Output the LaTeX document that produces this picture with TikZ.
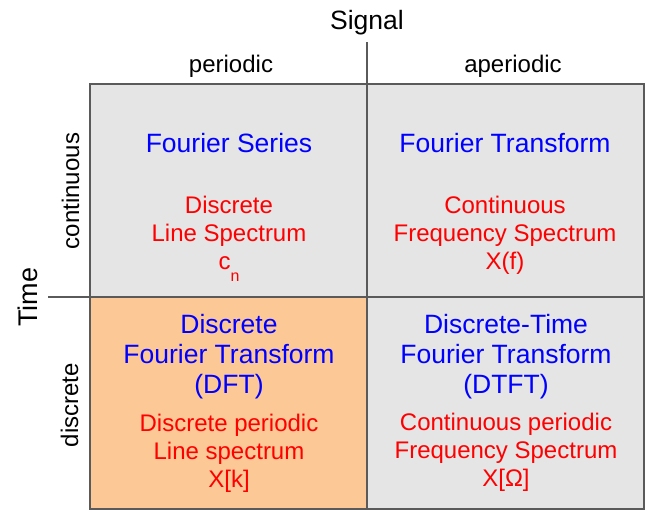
\documentclass[tikz,border=0pt]{standalone}
\usepackage{fontspec}
\setmainfont{Liberation Sans}
\definecolor{cellgray}{HTML}{E5E5E5}
\definecolor{cellorange}{HTML}{FBC896}
\definecolor{rulegray}{HTML}{5A5A5A}
\begin{document}
\begin{tikzpicture}[x=1pt,y=-1pt,
	head/.style={anchor=base,font=\fontsize{24}{28}\selectfont},
	title/.style={anchor=base,align=center,text=blue,font=\fontsize{26.5}{30}\selectfont},
	spec/.style={anchor=base,align=center,text=red,font=\fontsize{24}{27.7}\selectfont}]
	\useasboundingbox (0,0) rectangle (656,523);
	\fill[cellgray] (90,84) rectangle (644,509);
	\fill[cellorange] (90,297) rectangle (367,509);
	\draw[rulegray,line width=1.2pt] (90,84) rectangle (644,509);
	\coordinate (sigtop) at (367,42);
	\coordinate (sigbot) at (367,509);
	\coordinate (timeleft) at (48,297);
	\coordinate (timeright) at (644,297);
	\draw[rulegray,line width=1.2pt] (sigtop)--(sigbot) (timeleft)--(timeright);
	% headers
	\node[head,font=\fontsize{26.5}{30}\selectfont] (signal) at (367,29) {Signal};
	\node[head] (periodic) at (231,72) {periodic};
	\node[head] (aperiodic) at (513,72) {aperiodic};
	\node[head,rotate=90,font=\fontsize{27}{30}\selectfont] (time) at (37,297) {Time};
	\node[head,rotate=90] (continuous) at (79,191) {continuous};
	\node[head,rotate=90] (discrete) at (78,405) {discrete};
	% cells (base = last line)
	\node[title] (fs) at (229,152) {Fourier Series};
	\node[spec] (fsspec) at (229,269) {Discrete\\Line Spectrum\\c\raisebox{-12pt}{\fontsize{16}{16}\selectfont n}};
	\node[title] (ft) at (505,152) {Fourier Transform};
	\node[spec] (ftspec) at (505,269) {Continuous\\Frequency Spectrum\\X(f)};
	\node[title] (dft) at (229,393) {Discrete\\Fourier Transform\\(DFT)};
	\node[spec] (dftspec) at (229,487) {Discrete periodic\\Line spectrum\\X[k]};
	\node[title] (dtft) at (506,393) {Discrete-Time\\Fourier Transform\\(DTFT)};
	\node[spec] (dtftspec) at (506,486) {Continuous periodic\\Frequency Spectrum\\X[Ω]};
\end{tikzpicture}
\end{document}
